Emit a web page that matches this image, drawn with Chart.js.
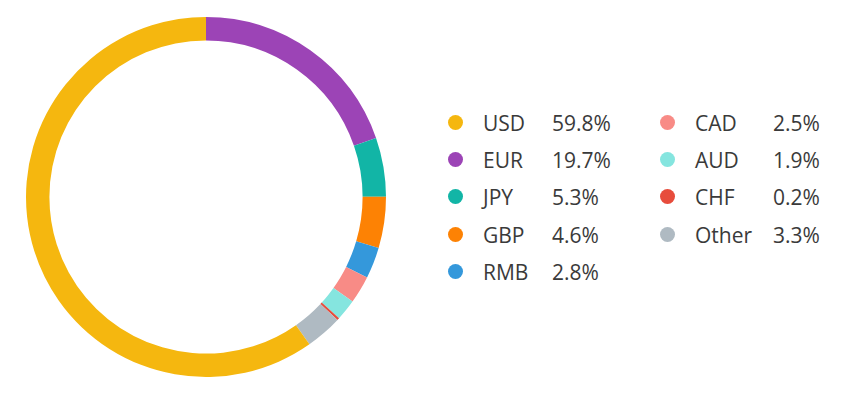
<!DOCTYPE html>
<html>
<head>
<meta charset="utf-8">
<script src="https://cdn.jsdelivr.net/npm/chart.js@4"></script>
<style>
  body { margin: 0; background: #fff; width: 856px; height: 399px; overflow: hidden; position: relative; font-family: "Open Sans", sans-serif; }
  #wrap { position: absolute; left: 0; top: 0; width: 412px; height: 399px; }
  .item { position: absolute; height: 30px; line-height: 30px; font-size: 21px; color: #3a3a3a; }
  .dot { position: absolute; width: 15px; height: 15px; border-radius: 50%; top: 7px; }
  .lab { position: absolute; white-space: nowrap; }
</style>
</head>
<body>
<div id="wrap"><canvas id="myChart"></canvas></div>
<div id="legend"></div>
<script>
// order as drawn clockwise from the top
const currencies = ["EUR", "JPY", "GBP", "RMB", "CAD", "AUD", "CHF", "Other", "USD"];
const shares = [19.7, 5.3, 4.6, 2.8, 2.5, 1.9, 0.2, 3.3, 59.8];
const colours = ["#9c44b6", "#12b5a6", "#fd8204", "#3498db", "#f88b86", "#85e5df", "#e74c3c", "#afbac2", "#f5b70f"];

// legend order
const legendOrder = ["USD", "EUR", "JPY", "GBP", "RMB", "CAD", "AUD", "CHF", "Other"];

new Chart("myChart", {
    type: "doughnut",
    data: {
        labels: currencies,
        datasets: [{
            data: shares,
            backgroundColor: colours,
            borderWidth: 0
        }]
    },
    options: {
        responsive: true,
        maintainAspectRatio: false,
        animation: false,
        cutout: "87%",
        layout: {padding: {left: 26, right: 26, top: 17, bottom: 22}},
        plugins: {
            legend: {display: false},
            tooltip: {enabled: false}
        }
    }
});

// legend, two columns
const legend = document.getElementById("legend");
legendOrder.forEach(function(name, n){
    const i = currencies.indexOf(name);
    const col = n < 5 ? 0 : 1;
    const row = col == 0 ? n : n - 5;
    const x = col == 0 ? 448 : 660;
    const y = 108 + row * 37.2;
    const item = document.createElement("div");
    item.className = "item";
    item.style.left = x + "px";
    item.style.top = y + "px";
    item.innerHTML =
        '<span class="dot" style="left:0;background:' + colours[i] + '"></span>' +
        '<span class="lab" style="left:35px">' + name + '</span>' +
        '<span class="lab" style="left:' + (col == 0 ? 104 : 113) + 'px">' + shares[i].toFixed(1) + '%</span>';
    legend.appendChild(item);
});
</script>
</body>
</html>
